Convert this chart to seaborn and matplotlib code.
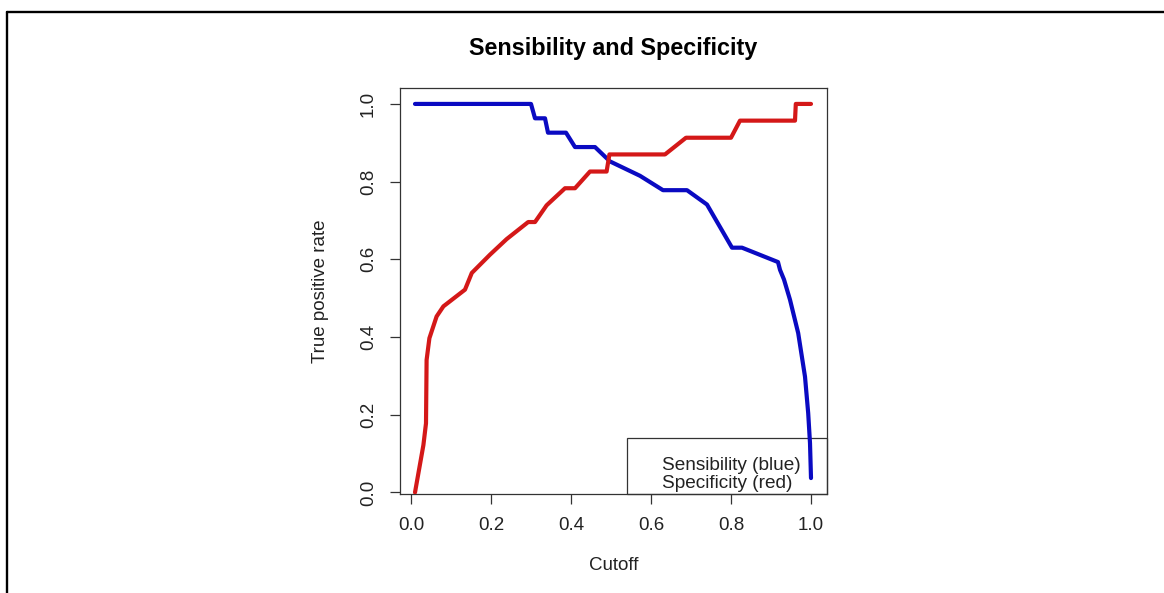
import matplotlib
matplotlib.use("Agg")
import matplotlib.pyplot as plt
from matplotlib.lines import Line2D
from matplotlib.patches import Rectangle
import seaborn as sns
import pandas as pd

# ---- data ----
sens_cutoff = [0.01, 0.30, 0.31, 0.335, 0.3425, 0.3875, 0.41, 0.46, 0.4975, 0.5725,
               0.63, 0.69, 0.74, 0.8025, 0.8275, 0.9175, 0.9225, 0.9325, 0.9475,
               0.968, 0.985, 0.993, 0.9975, 1.0]
sens_values = [1.0, 1.0, 0.963, 0.963, 0.926, 0.926, 0.889, 0.889, 0.852, 0.815,
               0.778, 0.778, 0.741, 0.630, 0.630, 0.593, 0.573, 0.548, 0.496,
               0.41, 0.298, 0.204, 0.127, 0.037]

spec_cutoff = [0.01, 0.031, 0.0375, 0.039, 0.046, 0.064, 0.081, 0.135, 0.152, 0.1975,
               0.239, 0.293, 0.31, 0.339, 0.385, 0.41, 0.4475, 0.489, 0.496, 0.635,
               0.6875, 0.80, 0.8225, 0.96, 0.962, 1.0]
spec_values = [0.0, 0.122, 0.178, 0.341, 0.397, 0.453, 0.479, 0.522, 0.565, 0.612,
               0.652, 0.696, 0.696, 0.739, 0.783, 0.783, 0.826, 0.826, 0.870, 0.870,
               0.913, 0.913, 0.957, 0.957, 1.0, 1.0]

x_ticks = [0.0, 0.2, 0.4, 0.6, 0.8, 1.0]
y_ticks = [0.0, 0.2, 0.4, 0.6, 0.8, 1.0]
tick_labels = ["0.0", "0.2", "0.4", "0.6", "0.8", "1.0"]

title = "Sensibility and Specificity"
x_label = "Cutoff"
y_label = "True positive rate"
legend_lines = ["Sensibility (blue)", "Specificity (red)"]

sens_color = "#0A0AC2"
spec_color = "#D41818"

# ---- style ----
sns.set_theme(style="white")
plt.rcParams["font.family"] = ["Liberation Sans", "DejaVu Sans"]
text_col = "#222222"

W, H = 1164, 593
fig = plt.figure(figsize=(W / 100, H / 100), dpi=100)
fig.patch.set_facecolor("white")

ax_l, ax_r, ax_t, ax_b = 400, 827, 88, 494
ax = fig.add_axes([ax_l / W, 1 - ax_b / H, (ax_r - ax_l) / W, (ax_b - ax_t) / H])

df_sens = pd.DataFrame({"cutoff": sens_cutoff, "rate": sens_values})
df_spec = pd.DataFrame({"cutoff": spec_cutoff, "rate": spec_values})

# legend box (drawn under lines)
box_x0 = (627 - ax_l) / (ax_r - ax_l)
box_h = (ax_b - 438) / (ax_b - ax_t)
ax.add_patch(Rectangle((box_x0, 0), 1 - box_x0, box_h, transform=ax.transAxes,
                       fill=False, edgecolor="#333333", linewidth=0.9, zorder=1,
                       clip_on=False))

sns.lineplot(data=df_sens, x="cutoff", y="rate", sort=False, estimator=None,
             color=sens_color, linewidth=3.0, ax=ax, zorder=3)
sns.lineplot(data=df_spec, x="cutoff", y="rate", sort=False, estimator=None,
             color=spec_color, linewidth=3.0, ax=ax, zorder=3)

ax.set_xlim(-0.0275, 1.04)
ax.set_ylim(-0.004, 1.041)

ax.set_xticks(x_ticks)
ax.set_xticklabels(tick_labels)
ax.set_yticks(y_ticks)
ax.set_yticklabels(tick_labels, rotation=90, va="center")

ax.tick_params(axis="both", which="major", direction="out", length=7.5, width=0.9,
               color="#333333", labelsize=13.5, labelcolor=text_col, pad=9)
ax.tick_params(axis="x", bottom=True)
ax.tick_params(axis="y", left=True)

for s in ax.spines.values():
    s.set_visible(True)
    s.set_color("#333333")
    s.set_linewidth(0.9)

ax.set_xlabel(x_label, fontsize=13.5, color=text_col)
ax.set_ylabel(y_label, fontsize=13.5, color=text_col)
ax.xaxis.set_label_coords(0.5, -(557 - ax_b) / (ax_b - ax_t))
ax.yaxis.set_label_coords(-(ax_l - 329) / (ax_r - ax_l), 0.5)

# legend texts
tx = (662 - ax_l) / (ax_r - ax_l)
ax.text(tx, (ax_b - 470) / (ax_b - ax_t), legend_lines[0], transform=ax.transAxes,
        fontsize=13.7, color=text_col, va="baseline", ha="left", zorder=2)
ax.text(tx, (ax_b - 488) / (ax_b - ax_t), legend_lines[1], transform=ax.transAxes,
        fontsize=13.7, color=text_col, va="baseline", ha="left", zorder=2)

# title
fig.text((ax_l + ax_r) / 2 / W, 1 - 55.5 / H, title, ha="center", va="baseline",
         fontsize=16.8, fontweight="bold", color="black")

# outer frame (top and left edges visible)
fig.add_artist(Line2D([7 / W, 1.0], [1 - 12 / H, 1 - 12 / H], transform=fig.transFigure,
                      color="black", linewidth=1.7))
fig.add_artist(Line2D([7 / W, 7 / W], [1 - 12 / H, 0.0], transform=fig.transFigure,
                      color="black", linewidth=1.7))

fig.savefig("out.png", dpi=100, facecolor="white")
